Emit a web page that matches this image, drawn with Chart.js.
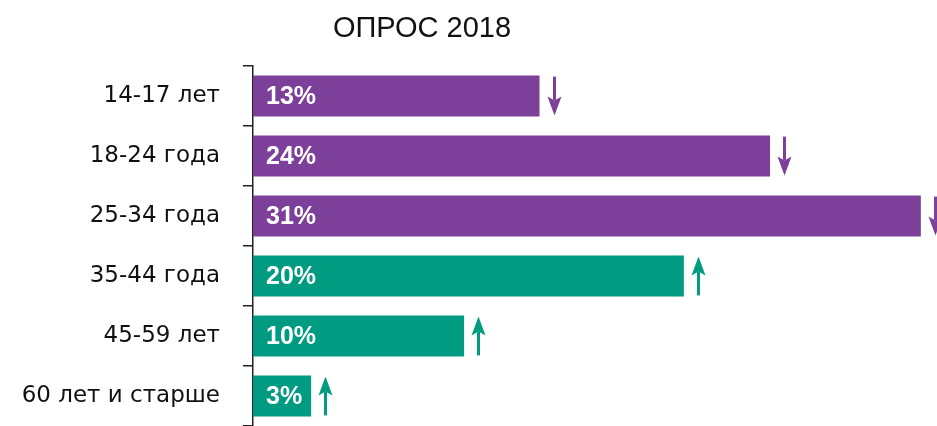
<!DOCTYPE html>
<html>
<head>
<meta charset="utf-8">
<script src="https://cdn.jsdelivr.net/npm/chart.js@4.4.1/dist/chart.umd.min.js"></script>
<style>
  html, body { margin: 0; padding: 0; background: #ffffff; overflow: hidden; }
  canvas { display: block; }
</style>
</head>
<body>
<canvas id="c" width="937" height="426"></canvas>
<script>
const chartTitle = 'ОПРОС 2018';
const categories = ['14-17 лет', '18-24 года', '25-34 года', '35-44 года', '45-59 лет', '60 лет и старше'];
const shares = [13.3, 24, 31, 20, 9.8, 2.7];
const shareLabels = ['13%', '24%', '31%', '20%', '10%', '3%'];
const trends = ['down', 'down', 'down', 'up', 'up', 'up'];

const PURPLE = '#7D409A';
const TEAL = '#009B80';
const FONT = "'Liberation Sans', Arial, sans-serif";
const LABEL_FONT = "'DejaVu Sans', sans-serif";
const barColors = trends.map(t => t === 'down' ? PURPLE : TEAL);

const overlay = {
  id: 'overlay',
  afterDraw(chart) {
    const ctx = chart.ctx;
    ctx.save();
    ctx.fillStyle = '#111111';
    ctx.font = "29px " + FONT;
    ctx.textAlign = 'center';
    ctx.textBaseline = 'alphabetic';
    ctx.fillText(chartTitle, 422, 37);

    const meta = chart.getDatasetMeta(0);
    meta.data.forEach((el, i) => {
      ctx.fillStyle = '#ffffff';
      ctx.font = "bold 25px " + FONT;
      ctx.textAlign = 'left';
      ctx.textBaseline = 'middle';
      ctx.fillText(shareLabels[i], el.base + 13, el.y + 1);

      const h = el.height;
      const x = Math.round(el.x + 14) + 0.5;
      const top = el.y - h / 2 + 1;
      const bot = el.y + h / 2 - 1;
      const headLen = 19, headW = 7, notch = 4;
      ctx.strokeStyle = barColors[i];
      ctx.fillStyle = barColors[i];
      ctx.lineWidth = 3;
      ctx.beginPath();
      if (trends[i] === 'down') {
        ctx.moveTo(x, top);
        ctx.lineTo(x, bot - headLen + notch);
        ctx.stroke();
        ctx.beginPath();
        ctx.moveTo(x, bot);
        ctx.lineTo(x - headW, bot - headLen);
        ctx.lineTo(x, bot - headLen + notch);
        ctx.lineTo(x + headW, bot - headLen);
        ctx.closePath();
        ctx.fill();
      } else {
        ctx.moveTo(x, bot);
        ctx.lineTo(x, top + headLen - notch);
        ctx.stroke();
        ctx.beginPath();
        ctx.moveTo(x, top);
        ctx.lineTo(x - headW, top + headLen);
        ctx.lineTo(x, top + headLen - notch);
        ctx.lineTo(x + headW, top + headLen);
        ctx.closePath();
        ctx.fill();
      }
    });
    ctx.restore();
  }
};

new Chart(document.getElementById('c'), {
  type: 'bar',
  data: {
    labels: categories,
    datasets: [{
      data: shares,
      backgroundColor: barColors,
      borderWidth: 0,
      barPercentage: 0.68,
      categoryPercentage: 1.0
    }]
  },
  options: {
    indexAxis: 'y',
    responsive: false,
    maintainAspectRatio: false,
    animation: false,
    devicePixelRatio: 1,
    layout: { padding: { top: 66, left: 0, right: 0, bottom: 0 } },
    plugins: {
      legend: { display: false },
      title: { display: false },
      tooltip: { enabled: false }
    },
    scales: {
      x: { display: false, min: 0, max: 31.75 },
      y: {
        grid: {
          drawOnChartArea: false,
          drawTicks: true,
          tickLength: 10,
          color: '#222222',
          lineWidth: 1.5,
          offset: true
        },
        border: { display: true, color: '#222222', width: 1.5 },
        ticks: {
          color: '#111111',
          padding: 23,
          font: { size: 23, family: LABEL_FONT }
        },
        afterFit(scale) {
          scale.width = 253;
          scale.paddingTop = 0;
          scale.paddingBottom = 0;
        }
      }
    }
  },
  plugins: [overlay]
});
</script>
</body>
</html>
